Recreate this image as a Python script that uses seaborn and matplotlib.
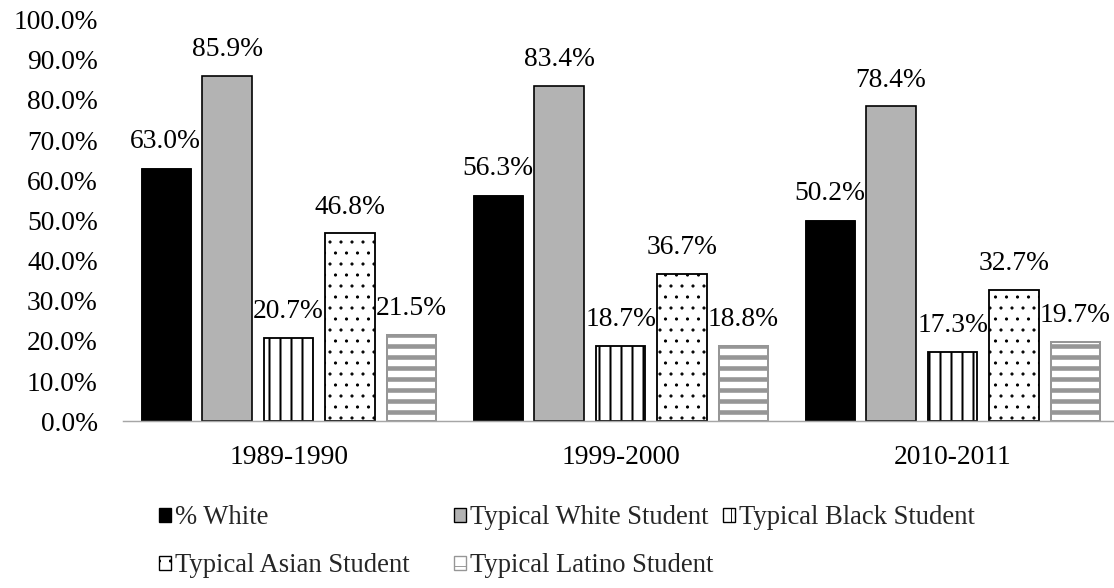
import matplotlib
matplotlib.use("Agg")
import matplotlib.pyplot as plt
import matplotlib.patches as mpatches
import pandas as pd
import seaborn as sns

years = ["1989-1990", "1999-2000", "2010-2011"]
series = ["% White", "Typical White Student", "Typical Black Student",
          "Typical Asian Student", "Typical Latino Student"]
pct_white = [63.0, 56.3, 50.2]
typical_white = [85.9, 83.4, 78.4]
typical_black = [20.7, 18.7, 17.3]
typical_asian = [46.8, 36.7, 32.7]
typical_latino = [21.5, 18.8, 19.7]

values = [pct_white, typical_white, typical_black, typical_asian, typical_latino]
rows = []
for name, vals in zip(series, values):
    for yr, v in zip(years, vals):
        rows.append({"year": yr, "series": name, "value": v})
df = pd.DataFrame(rows)

# styles: facecolor, edgecolor (also hatch colour), hatch, edge width, hatch width
styles = [
    ("black", "black", "", 1.0, 1.0),
    ("#b3b3b3", "black", "", 1.8, 1.0),
    ("white", "black", "|", 2.0, 2.2),
    ("white", "black", ".", 2.0, 1.0),
    ("white", "#969696", "-", 2.2, 5.0),
]

sns.set_style("white")
plt.rcParams["font.family"] = ["Liberation Serif", "DejaVu Serif"]

# hatch cell is one inch, so dpi 66 gives ~11px hatch spacing like the original
DPI = 66
W, H = 1114, 588
fig = plt.figure(figsize=(W / DPI, H / DPI), dpi=DPI)
ax = fig.add_axes([122.6 / W, (H - 421.3) / H, 996 / W, 401.8 / H])

sns.barplot(data=df, x="year", y="value", hue="series", order=years,
            hue_order=series, palette=[s[0] for s in styles],
            width=0.925, gap=0.19, saturation=1, legend=False, ax=ax)

for cont, (fc, ec, hatch, lw, hlw), vals in zip(ax.containers, styles, values):
    for bar in cont:
        bar.set_facecolor(fc)
        bar.set_edgecolor(ec)
        bar.set_linewidth(lw)
        bar.set_hatch(hatch)
        if hasattr(bar, "set_hatch_linewidth"):
            bar.set_hatch_linewidth(hlw)
    ax.bar_label(cont, labels=[f"{v:.1f}%" for v in vals], padding=15,
                 fontsize=30, color="black")

ax.set_ylim(0, 100)
ax.set_xlim(-0.5, 2.5)
ax.set_yticks(range(0, 101, 10))
ax.set_yticklabels([f"{t:.1f}%" for t in range(0, 101, 10)])
ax.tick_params(axis="y", length=0, pad=27, labelsize=30, labelcolor="black")
ax.tick_params(axis="x", length=0, pad=26, labelsize=30, labelcolor="black")
ax.set_xlabel("")
ax.set_ylabel("")
for side in ["top", "right", "left"]:
    ax.spines[side].set_visible(False)
ax.spines["bottom"].set_color("#a6a6a6")
ax.spines["bottom"].set_linewidth(1.6)

# legend entries placed like the original (Excel-style flow layout)
legend_pos = [(159, 518), (454, 518), (723, 518), (159, 566), (454, 566)]
for (fc, ec, hatch, lw, hlw), name, (px, py) in zip(styles, series, legend_pos):
    handle = mpatches.Patch(facecolor=fc, edgecolor=ec, hatch=hatch, linewidth=1.5)
    fig.legend(handles=[handle], labels=[name], loc="center left",
               bbox_to_anchor=(px / W, 1 - py / H), frameon=False,
               fontsize=29, handlelength=0.47, handleheight=0.47,
               handletextpad=0.15, borderpad=0, borderaxespad=0)

fig.savefig("out.png", dpi=DPI, facecolor="white")
